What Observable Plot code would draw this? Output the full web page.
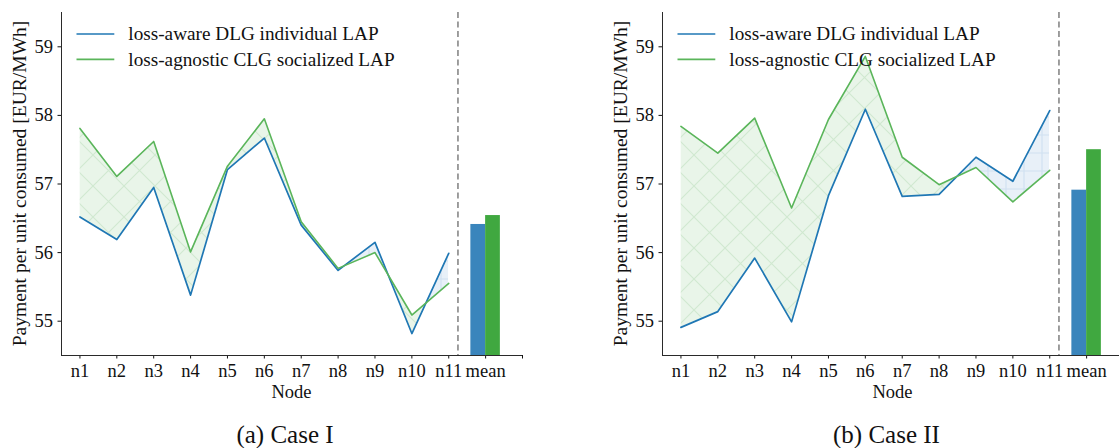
<!DOCTYPE html>
<html>
<head>
<meta charset="utf-8">
<script src="https://cdn.jsdelivr.net/npm/d3@7"></script>
<script src="https://cdn.jsdelivr.net/npm/@observablehq/plot@0.6"></script>
<style>
  body { margin: 0; background: #fff; }
  #root { position: relative; width: 1119px; height: 448px; overflow: hidden; font-family: "Liberation Serif", serif; color: #111; }
  .panel { position: absolute; top: 0; width: 532px; height: 410px; }
  .panel svg { max-width: none !important; }
  .caption { position: absolute; top: 422px; font-size: 25px; line-height: 25px; white-space: nowrap; transform: translateX(-50%); }
</style>
</head>
<body>
<svg width="0" height="0" style="position:absolute">
  <defs>
    <pattern id="hatchX" patternUnits="userSpaceOnUse" width="31" height="31">
      <rect width="31" height="31" fill="#e9f5e9"></rect>
      <path d="M-1,-1L32,32M-1,32L32,-1" stroke="#d0e9d0" stroke-width="1.1" fill="none"></path>
    </pattern>
    <pattern id="hatchPlus" patternUnits="userSpaceOnUse" width="18" height="18">
      <rect width="18" height="18" fill="#e8f0f8"></rect>
      <path d="M9,0V18M0,9H18" stroke="#d0e1f1" stroke-width="1.1" fill="none"></path>
    </pattern>
  </defs>
</svg>
<div id="root"></div>
<script>
// ---------------- data ----------------
const nodes = ["n1", "n2", "n3", "n4", "n5", "n6", "n7", "n8", "n9", "n10", "n11"];
const meanLabel = "mean";
const seriesNames = ["loss-aware DLG individual LAP", "loss-agnostic CLG socialized LAP"];
const yTicks = [55, 56, 57, 58, 59];
const captions = ["(a) Case I", "(b) Case II"];

const awareCaseI    = [56.52, 56.19, 56.95, 55.38, 57.21, 57.67, 56.40, 55.74, 56.15, 54.82, 55.99];
const agnosticCaseI = [57.81, 57.11, 57.62, 56.01, 57.26, 57.95, 56.45, 55.77, 56.00, 55.09, 55.55];
const meanCaseI     = [56.41, 56.54];

const awareCaseII    = [54.91, 55.14, 55.92, 54.99, 56.83, 58.09, 56.82, 56.85, 57.39, 57.04, 58.07];
const agnosticCaseII = [57.84, 57.45, 57.96, 56.65, 57.94, 58.86, 57.39, 56.99, 57.24, 56.74, 57.20];
const meanCaseII     = [56.91, 57.50];

// ---------------- style ----------------
const lineColors = ["#1f77b4", "#5ab55a"];
const barColors = ["#3a85bc", "#40a840"];
const yDomain = [54.5, 59.5];
const axisColor = "#2a2a2a";
const W = 532, H = 410, ML = 61, MR = 10, MT = 12, MB = 55;

const allLabels = [...nodes, meanLabel];

// set font-size so that the text's width matches a target width
function fitWidth(textSel, target, base) {
  const n = textSel.node();
  const w = n.getComputedTextLength();
  if (w > 0) textSel.attr("font-size", (base * target / w).toFixed(2) + "px");
}

function makePanel(aware, agnostic, means, idx, left) {
  const data = nodes.map((n, i) => ({i, aware: aware[i], agnostic: agnostic[i]}));
  const meanIndex = nodes.length;
  const bw = 0.4;
  const bars = means.map((v, k) => ({x1: meanIndex - bw + k * bw, x2: meanIndex + k * bw, v, c: barColors[k]}));
  const [yMin, yMax] = yDomain;

  const plot = Plot.plot({
    width: W, height: H,
    marginLeft: ML, marginRight: MR, marginTop: MT, marginBottom: MB,
    style: {fontFamily: "Liberation Serif, serif", fontSize: "18.5px", color: "#111", background: "transparent", maxWidth: "none"},
    x: {domain: [-0.5, meanIndex + 1], ticks: d3.range(meanIndex + 2), tickFormat: i => allLabels[i] ?? "", tickSize: 3.5, tickPadding: 5, label: null},
    y: {domain: yDomain, ticks: yTicks, tickFormat: d => String(d), tickSize: 3.5, tickPadding: 5, label: null},
    marks: [
      // green region: agnostic above aware (area 0 clipped by area 1)
      Plot.areaY(data, {x: "i", y1: "aware", y2: () => yMax, fill: "url(#hatchX)"}),
      Plot.areaY(data, {x: "i", y1: () => yMin, y2: "agnostic", fill: "black"}),
      // blue region: aware above agnostic (area 2 clipped by area 3)
      Plot.areaY(data, {x: "i", y1: "agnostic", y2: () => yMax, fill: "url(#hatchPlus)"}),
      Plot.areaY(data, {x: "i", y1: () => yMin, y2: "aware", fill: "black"}),
      Plot.lineY(data, {x: "i", y: "aware", stroke: lineColors[0], strokeWidth: 1.7}),
      Plot.lineY(data, {x: "i", y: "agnostic", stroke: lineColors[1], strokeWidth: 1.6}),
      Plot.rect(bars, {x1: "x1", x2: "x2", y1: () => yMin, y2: "v", fill: "c"}),
      Plot.ruleX([meanIndex - 0.75], {stroke: "#7f7f7f", strokeWidth: 1.5, strokeDasharray: "6,3.5"}),
      Plot.ruleY([yMin], {stroke: axisColor, strokeWidth: 1}),
      Plot.ruleX([-0.5], {stroke: axisColor, strokeWidth: 1})
    ]
  });

  const svg = d3.select(plot);
  const defs = svg.insert("defs", ":first-child");
  const areas = svg.selectAll('g[aria-label="area"]').nodes();
  [[0, 1], [2, 3]].forEach(([fi, ci], k) => {
    const fillG = areas[fi], clipG = areas[ci];
    if (!fillG || !clipG) return;
    const id = `clip-${k}-${idx}`;
    const cp = defs.append("clipPath").attr("id", id);
    const p = clipG.querySelector("path");
    const t = clipG.getAttribute("transform");
    if (t && p) p.setAttribute("transform", t);
    if (p) cp.node().appendChild(p);
    clipG.remove();
    fillG.setAttribute("clip-path", `url(#${id})`);
  });

  const sx = plot.scale("x"), sy = plot.scale("y");
  const div = document.createElement("div");
  div.className = "panel";
  div.style.left = left + "px";
  div.appendChild(plot);
  document.getElementById("root").appendChild(div);

  // y label
  const yl = svg.append("text")
    .attr("transform", `translate(26,${(sy.apply(yMin) + sy.apply(yMax)) / 2}) rotate(-90)`)
    .attr("text-anchor", "middle")
    .attr("font-size", "19.5px").attr("fill", "#111")
    .text("Payment per unit consumed [EUR/MWh]");
  fitWidth(yl, 326, 19.5);
  // x label
  svg.append("text")
    .attr("x", (sx.apply(-0.5) + sx.apply(meanIndex + 1)) / 2).attr("y", 398)
    .attr("text-anchor", "middle").attr("font-size", "18.5px").attr("fill", "#111")
    .text("Node");
  // legend
  const lg = svg.append("g").attr("text-anchor", "start");
  const texts = seriesNames.map((name, k) => {
    const y = 34 + k * 25.3;
    lg.append("line").attr("x1", 76.5).attr("x2", 114.3).attr("y1", y).attr("y2", y)
      .attr("stroke", lineColors[k]).attr("stroke-width", 1.7);
    return lg.append("text").attr("x", 128.3).attr("y", y + 6.3).attr("text-anchor", "start")
      .attr("font-size", "19px").attr("fill", "#111").text(name);
  });
  // size legend so its rows span about the widths of the reference rows (252 and 265 px)
  const w0 = texts[0].node().getComputedTextLength(), w1 = texts[1].node().getComputedTextLength();
  if (w0 > 0 && w1 > 0) {
    const fs = 19 * ((252 / w0) + (265 / w1)) / 2;
    texts.forEach(t => t.attr("font-size", fs.toFixed(2) + "px"));
  }
}

makePanel(awareCaseI, agnosticCaseI, meanCaseI, 0, 0);
makePanel(awareCaseII, agnosticCaseII, meanCaseII, 1, 601.3);
const root = document.getElementById("root");
[[captions[0], 285], [captions[1], 886.5]].forEach(([t, x]) => {
  const c = document.createElement("div");
  c.className = "caption";
  c.style.left = x + "px";
  c.textContent = t;
  root.appendChild(c);
});
</script>
</body>
</html>
